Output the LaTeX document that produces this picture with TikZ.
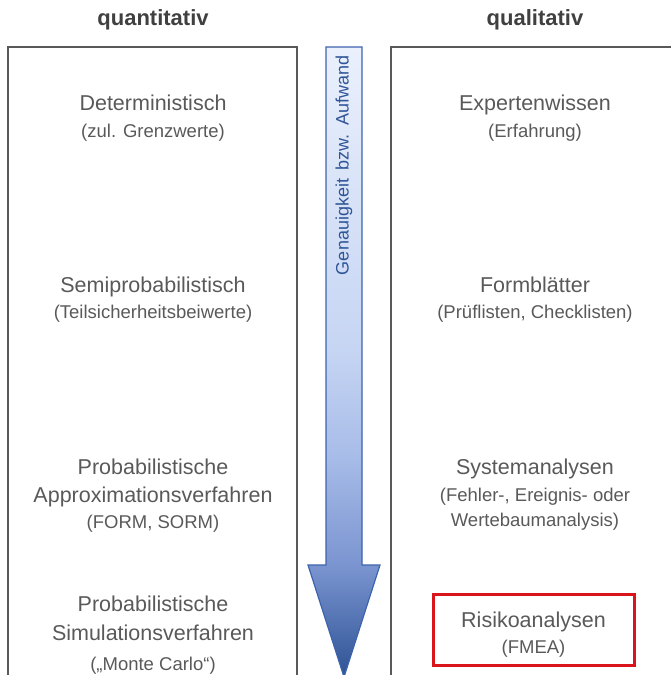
\documentclass[tikz,border=0pt]{standalone}
\usepackage{fontspec}
\setmainfont{Liberation Sans}
\definecolor{txtgray}{HTML}{595959}
\definecolor{headgray}{HTML}{404040}
\definecolor{framegray}{HTML}{595959}
\definecolor{arrowblue}{HTML}{3E63AE}
\definecolor{arrowtext}{HTML}{2F5597}
\definecolor{riskred}{HTML}{D9151B}
\definecolor{shA}{HTML}{2D5294}
\definecolor{shB}{HTML}{7A94D0}
\definecolor{shC}{HTML}{A7BCE8}
\definecolor{shD}{HTML}{C6D5F3}
\definecolor{shE}{HTML}{EAF0FC}
% vertical gradient of the arrow, dark at the tip
\pgfdeclareverticalshading{arrowshade}{100bp}{%
  color(0bp)=(shA); color(25bp)=(shA); color(33.8bp)=(shB);
  color(42.5bp)=(shC); color(51bp)=(shD); color(75bp)=(shE); color(100bp)=(shE)}
\tikzset{
  head/.style={font=\fontsize{22}{26}\selectfont\bfseries, text=headgray, inner sep=0pt},
  maintext/.style={font=\fontsize{21.5}{26}\selectfont, text=txtgray, anchor=base, inner sep=0pt},
  subtext/.style={font=\fontsize{18.5}{22}\selectfont, text=txtgray, anchor=base, inner sep=0pt},
  frame/.style={draw=framegray, line width=1.6pt},
  riskbox/.style={draw=riskred, line width=3pt},
}
\begin{document}
\begin{tikzpicture}[x=1pt, y=-1pt]
\useasboundingbox (0,0) rectangle (670,675);

% column headers
\node[head] (hquan) at (153,20) {quantitativ};
\node[head] (hqual) at (535,20) {qualitativ};

% open frames of the two columns
\draw[frame] (8,680) -- (8,47) -- (297,47) -- (297,680);
\draw[frame] (391,680) -- (391,47) -- (675,47);

% downward arrow
\path[shading=arrowshade, draw=arrowblue, line width=1.2pt, line join=miter]
  (326,47) -- (362,47) -- (362,565) -- (380,565) -- (344,677)
  -- (308,565) -- (326,565) -- cycle;
\node[rotate=90, anchor=east, font=\fontsize{18}{22}\selectfont, text=arrowtext, inner sep=0pt]
  (acc) at (344,55) {Genauigkeit\, bzw.\, Aufwand};

% quantitative methods
\node[maintext] (det) at (153,110) {Deterministisch};
\node[subtext] (detsub) at (153,137) {(zul. Grenzwerte)};
\node[maintext] (semi) at (153,292) {Semiprobabilistisch};
\node[subtext] (semisub) at (153,318) {(Teilsicherheitsbeiwerte)};
\node[maintext] (appA) at (153,474) {Probabilistische};
\node[maintext] (appB) at (153,502) {Approximationsverfahren};
\node[subtext] (appsub) at (153,528) {(FORM, SORM)};
\node[maintext] (simA) at (153,611) {Probabilistische};
\node[maintext] (simB) at (153,640) {Simulationsverfahren};
\node[subtext] (simsub) at (153,670) {(„Monte Carlo“)};

% qualitative methods
\node[maintext] (exp) at (535,110) {Expertenwissen};
\node[subtext] (expsub) at (535,137) {(Erfahrung)};
\node[maintext] (form) at (535,292) {Formblätter};
\node[subtext] (formsub) at (535,318) {(Prüflisten, Checklisten)};
\node[maintext] (sys) at (535,474) {Systemanalysen};
\node[subtext] (sysA) at (535,501) {(Fehler-, Ereignis- oder};
\node[subtext] (sysB) at (535,526) {Wertebaumanalysis)};
\draw[riskbox] (433,594) rectangle (634,665);
\node[maintext] (risk) at (533.5,627) {Risikoanalysen};
\node[subtext] (risksub) at (533.5,653) {(FMEA)};
\end{tikzpicture}
\end{document}
